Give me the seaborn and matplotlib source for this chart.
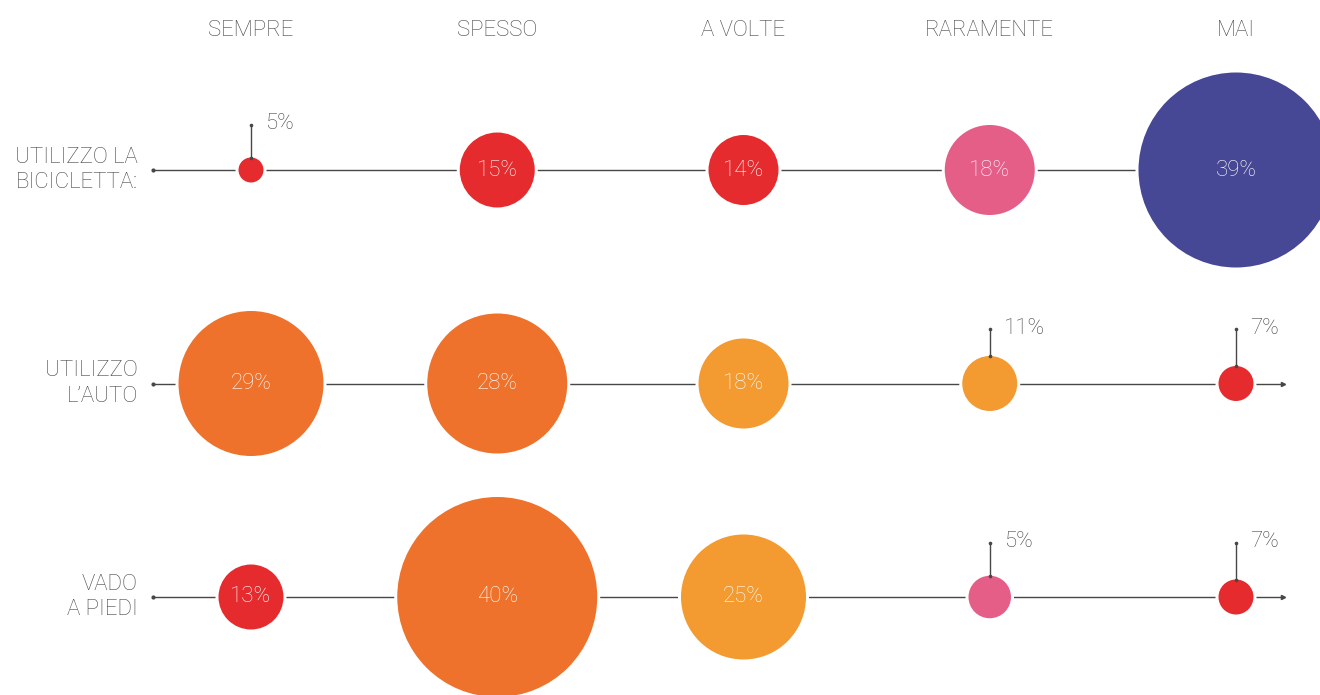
import matplotlib
matplotlib.use("Agg")
import matplotlib.pyplot as plt
import pandas as pd
import seaborn as sns

# frequenza d'uso (colonne) e mezzi (righe)
frequenze = ["SEMPRE", "SPESSO", "A VOLTE", "RARAMENTE", "MAI"]
mezzi = ["UTILIZZO LA\nBICICLETTA:", "UTILIZZO\nL’AUTO", "VADO\nA PIEDI"]

bici = [5, 15, 14, 18, 39]
auto = [29, 28, 18, 11, 7]
piedi = [13, 40, 25, 5, 7]

# grandezza delle bolle come disegnate (la rosa del 5% e' piu grande)
bolle_bici = [5, 15, 14, 18, 39]
bolle_auto = [29, 28, 18, 11, 7]
bolle_piedi = [13, 40, 25, 8.5, 7]

toni_bici = ["rosso", "rosso", "rosso", "rosa", "blu"]
toni_auto = ["arancio", "arancio", "giallo", "giallo", "rosso"]
toni_piedi = ["rosso", "arancio", "giallo", "rosa", "rosso"]

palette = {"rosso": "#E52B2E", "arancio": "#EE722C", "giallo": "#F39A30",
           "rosa": "#E45E88", "blu": "#464795"}

righe = []
for r, (vals, bolle, toni) in enumerate([(bici, bolle_bici, toni_bici),
                                         (auto, bolle_auto, toni_auto),
                                         (piedi, bolle_piedi, toni_piedi)]):
    for c in range(len(frequenze)):
        righe.append({"col": c, "riga": r, "valore": vals[c],
                      "bolla": bolle[c], "tono": toni[c]})
df = pd.DataFrame(righe)

sns.set_theme(style="white")
plt.rcParams["font.family"] = ["Roboto", "DejaVu Sans"]

W, H, DPI = 1320, 695, 100
fig = plt.figure(figsize=(W / DPI, H / DPI), dpi=DPI)
ax = fig.add_axes([0, 0, 1, 1])

# scala: colonne ~246 px, righe ~213 px
px_col, px_row = 246.25, 213.5
ax.set_xlim(-251 / px_col, (W - 251) / px_col)
ax.set_ylim((H - 170) / px_row, -170 / px_row)
ax.axis("off")

K = 2.5          # px di raggio per punto percentuale
pt = 72 / DPI
df["area"] = (2 * K * df["bolla"] * pt) ** 2
df["alone"] = (2 * (K * df["bolla"] + 3) * pt) ** 2
amax = df["alone"].max()

grigio = "#474747"
fs = 16

# linee orizzontali
ax.hlines(range(len(mezzi)), -0.40, 4.19, color=grigio, lw=1, zorder=1)
ax.plot([-0.40] * 3, range(3), "o", color=grigio, ms=2, zorder=1)
ax.plot([4.19] * 3, range(3), ">", color=grigio, ms=3, zorder=1)

# alone bianco e bolle
sns.scatterplot(data=df, x="col", y="riga", size="alone", sizes=(0, amax),
                size_norm=(0, amax), color="white", linewidth=0,
                legend=False, ax=ax, zorder=2)
sns.scatterplot(data=df, x="col", y="riga", size="area", sizes=(0, amax),
                size_norm=(0, amax), hue="tono", palette=palette, linewidth=0,
                alpha=1, legend=False, ax=ax, zorder=3)

for _, d in df.iterrows():
    etichetta = f"{d['valore']}%"
    if d["valore"] >= 12:
        ax.text(d["col"], d["riga"], etichetta, color="white", fontsize=fs,
                fontweight="light", ha="center", va="center", zorder=5)
    else:
        alto = 0.21 if d["riga"] == 0 else 0.253
        y0 = d["riga"] - K * d["bolla"] / px_row
        y1 = d["riga"] - alto
        ax.plot([d["col"], d["col"]], [y0, y1], color=grigio, lw=1, zorder=4)
        ax.plot([d["col"]] * 2, [y0, y1], "o", color=grigio, ms=1.6, zorder=4)
        ax.annotate(etichetta, (d["col"], y1), xytext=(10, 1),
                    textcoords="offset points", color=grigio, fontsize=fs,
                    fontweight="light", ha="left", va="center")

# intestazioni colonne
for c, f in enumerate(frequenze):
    ax.text(c, 1 - 30 / H, f, transform=ax.get_xaxis_transform(),
            color=grigio, fontsize=fs, fontweight="light",
            ha="center", va="center")

# etichette righe
for r, m in enumerate(mezzi):
    ax.text(138 / W, r, m, transform=ax.get_yaxis_transform(), color=grigio,
            fontsize=fs, fontweight="light", ha="right", va="center",
            multialignment="right", linespacing=1.3)

fig.savefig("out.png", dpi=DPI, facecolor="white")
